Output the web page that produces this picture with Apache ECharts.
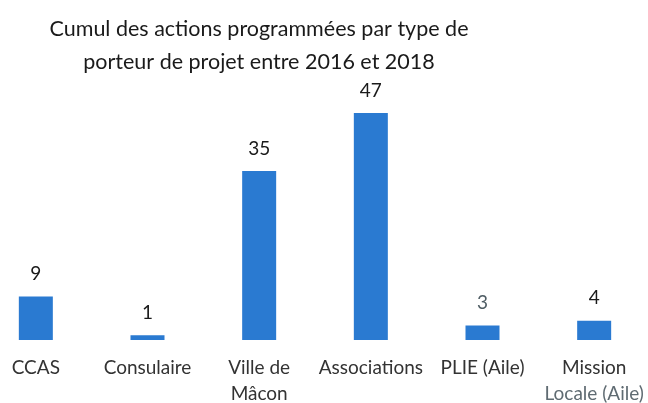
<!DOCTYPE html>
<html><head><meta charset="utf-8">
<script src="https://cdn.jsdelivr.net/npm/echarts@6/dist/echarts.min.js"></script>
<style>html,body{margin:0;padding:0;background:#fff}#c{width:648px;height:403px}</style>
</head><body><div id="c"></div>
<script>
const categories = ["CCAS", "Consulaire", "Ville de\nMâcon", "Associations", "PLIE (Aile)", "Mission\nLocale (Aile)"];
const values = [9, 1, 35, 47, 3, 4];
const titleText = "Cumul des actions programmées par type de\nporteur de projet entre 2016 et 2018";

const chart = echarts.init(document.getElementById('c'));
chart.setOption({
  animation: false,
  backgroundColor: '#ffffff',
  title: {
    text: titleText,
    left: 254, top: 8, textAlign: 'center',
    textStyle: { fontFamily: 'Lato', fontSize: 21.5, fontWeight: 'normal', color: '#1a1a1a', lineHeight: 33 }
  },
  grid: { left: -20, width: 670, top: 98.5, bottom: 63, outerBoundsMode: 'none', containLabel: false },
  xAxis: {
    type: 'category', data: categories,
    axisLine: { show: false }, axisTick: { show: false },
    axisLabel: {
      interval: 0, fontFamily: 'Lato', fontSize: 19, color: '#333', lineHeight: 26, margin: 15,
      formatter: function (v) {
        if (v.indexOf('Locale') >= 0) {
          const parts = v.split('\n');
          return parts[0] + '\n{g|' + parts[1] + '}';
        }
        return v;
      },
      rich: { g: { fontFamily: 'Lato', fontSize: 19, color: '#5f6b72', lineHeight: 26 } }
    }
  },
  yAxis: { type: 'value', min: 0, max: 50, show: false, splitLine: { show: false } },
  series: [{
    type: 'bar',
    data: values.map(function (v, i) {
      return i === 4 ? { value: v, label: { color: '#4f5d64' } } : v;
    }),
    barWidth: 34,
    itemStyle: { color: '#2a7ad1' },
    label: { show: true, position: 'top', distance: 13, fontFamily: 'Lato', fontSize: 19, color: '#1a1a1a' }
  }]
});
</script></body></html>
